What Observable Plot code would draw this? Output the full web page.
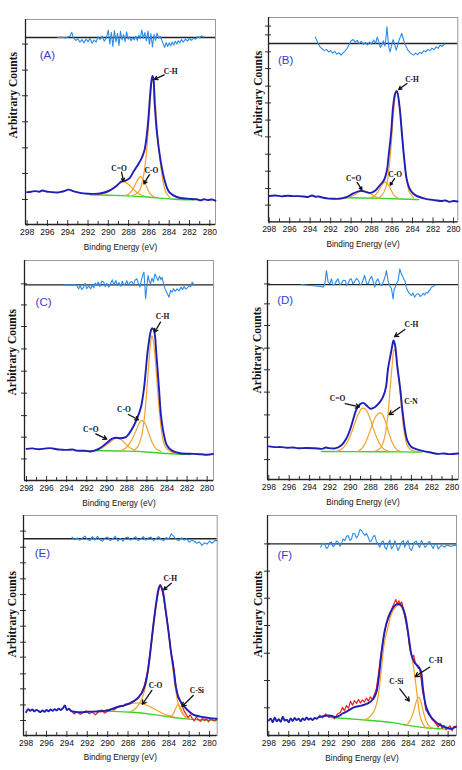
<!DOCTYPE html>
<html><head><meta charset="utf-8">
<script src="https://cdn.jsdelivr.net/npm/d3@7"></script>
<script src="https://cdn.jsdelivr.net/npm/@observablehq/plot@0.6"></script>
<style>
body{margin:0;background:#fff}
#root{position:relative;width:462px;height:770px;overflow:hidden;background:#fff}
.panel{position:absolute}
</style></head><body><div id="root"></div>
<script>
// ---------- shared tick labels ----------
const xMajor = [298,296,294,292,290,288,286,284,282,280];
const xMinor = [297,295,293,291,289,287,285,283,281];
const xTitle = "Binding Energy (eV)";
const yTitle = "Arbitrary Counts";

// ---------- Panel A ----------
const A_yTicks = [12.2,24.9,37.4,50.1,62.8,75.3,88.0];
const A_zero = 91.2;
const A_env = [[298.0,15.8],[297.6,16.0],[297.2,16.3],[296.8,16.0],[296.5,16.6],[296.1,16.1],[295.8,15.9],[295.4,15.7],[295.0,15.6],[294.7,15.9],[294.4,16.2],[293.9,17.0],[293.4,16.2],[292.8,15.4],[292.0,15.0],[291.0,15.0],[290.4,15.6],[289.8,16.8],[289.2,18.8],[288.7,21.0],[288.3,21.4],[287.9,22.6],[287.5,26.0],[287.1,29.0],[286.8,31.5],[286.45,36.0],[286.2,44],[286.0,55],[285.9,62],[285.75,70],[285.65,72.5],[285.55,71],[285.45,60.5],[285.2,44.2],[284.85,31.2],[284.45,21.5],[284.0,15.8],[283.2,13.3],[282.2,12.6],[281.3,12.3],[280.9,11.8],[280.6,12.3],[280.2,11.9],[279.8,12.2],[279.45,11.6]];
const A_green = [[291.8,14.5],[290,14.3],[288,14.0],[286.5,13.6],[285,12.8],[283.5,12.3],[281.6,12.0]];
const A_CdO = [[291.3,14.4],[290.5,15.0],[290,16.0],[289.5,17.8],[289.0,19.8],[288.6,20.8],[288.2,20.2],[287.8,18.6],[287.4,16.6],[287.0,15.0],[286.5,14.0]];
const A_CO = [[288.4,14.1],[288.0,14.8],[287.6,17.0],[287.2,21.0],[286.85,23.4],[286.5,21.5],[286.2,18.0],[285.9,15.2],[285.5,13.5]];
const A_CH = [[287.6,14.0],[287.0,16],[286.6,22],[286.3,32],[286.1,44],[285.9,58],[285.75,68],[285.65,71],[285.5,68.5],[285.35,58],[285.15,44],[284.9,31],[284.6,21],[284.3,15.5],[283.9,13]];
const A_resid = [[295.0,91.2],[294.6,91.4],[294.2,91.0],[293.8,91.8],[293.6,93.8],[293.45,91.0],[293.2,89.8],[293.0,90.6],[292.8,89.0],[292.6,90.2],[292.4,88.6],[292.2,90.4],[292.0,89.2],[291.8,90.8],[291.6,88.4],[291.4,90.0],[291.2,89.0],[291.0,91.6],[290.8,90.2],[290.6,92.0],[290.4,89.4],[290.2,91.0],[290.0,94.8],[289.85,88.0],[289.7,93.8],[289.55,86.8],[289.4,94.6],[289.25,89.0],[289.1,93.2],[288.95,87.4],[288.8,94.2],[288.65,90.0],[288.5,92.6],[288.35,89.2],[288.2,94.0],[288.05,90.4],[287.9,91.6],[287.75,89.6],[287.6,91.2],[287.45,90.0],[287.3,91.8],[287.15,89.8],[287.0,92.4],[286.85,90.6],[286.7,94.8],[286.55,91.0],[286.4,93.6],[286.25,89.6],[286.1,94.4],[285.95,88.0],[285.8,93.0],[285.65,86.6],[285.5,92.8],[285.35,89.8],[285.2,93.4],[285.05,90.8],[284.9,91.8],[284.75,90.2],[284.6,88.2],[284.45,86.4],[284.3,88.8],[284.15,86.8],[284.0,88.6],[283.85,87.2],[283.7,89.0],[283.55,87.6],[283.4,89.4],[283.25,88.0],[283.1,89.6],[282.95,88.6],[282.8,90.2],[282.6,89.0],[282.4,90.4],[282.2,89.4],[282.0,90.8],[281.8,89.8],[281.6,91.0],[281.4,90.4],[281.2,91.6],[281.0,91.2],[280.8,92.0],[280.6,91.4]];
const A_labels = [{t:"C-H",x:283.85,y:74.6},{t:"C=O",x:288.95,y:27.5},{t:"C-O",x:285.75,y:26.3}];
const A_arrows = [{x1:284.5,y1:73.0,x2:285.45,y2:70.8},{x1:288.7,y1:25.5,x2:288.5,y2:21.2},{x1:285.95,y1:24.3,x2:286.5,y2:19.8}];
const A_tag = {t:"(A)",x:296.0,y:82.4};

// ---------- Panel B ----------
const B_yTicks = [8.2,16.3,24.8,33.1,41.6,49.8,58.2,66.4,75.0,83.2,91.5,95.8];
const B_zero = 87.3;
const B_env = [[298.0,12.7],[297.4,12.9],[296.8,12.5],[296.2,12.8],[295.6,12.6],[295.1,12.6],[294.6,12.4],[294.2,12.2],[293.8,12.9],[293.5,12.3],[293.2,12.4],[292.7,11.8],[292.2,11.4],[291.7,11.3],[291.2,11.3],[290.8,11.6],[290.4,12.2],[289.8,13.9],[289.1,15.2],[288.6,14.7],[288.1,14.2],[287.6,15.5],[287.2,17.9],[286.8,20.4],[286.5,25.3],[286.35,31.8],[286.1,43.2],[285.9,56.3],[285.7,62.8],[285.53,64.1],[285.27,56.3],[285.04,43.2],[284.8,30.2],[284.55,20.4],[284.2,15.5],[283.74,13.1],[282.8,11.4],[281.8,10.6],[281.2,10.2],[280.8,10.5],[280.4,9.8],[280.0,10.2],[279.6,10.0]];
const B_green = [[290.6,11.8],[289,11.7],[287,11.5],[285,11.2],[283.4,10.9]];
const B_CdO = [[290.5,11.8],[290,12.4],[289.5,13.8],[289.1,15.0],[288.8,15.3],[288.4,14.6],[288,13.4],[287.6,12.3],[287.2,11.6]];
const B_CO = [[288.2,11.7],[287.8,12.5],[287.4,14.6],[287.0,17.8],[286.7,19.6],[286.4,18.4],[286.1,15.6],[285.8,13.0],[285.4,11.6]];
const B_CH = [[287.4,11.6],[287.0,13],[286.6,17],[286.3,26],[286.05,40],[285.85,54],[285.7,61],[285.55,63.6],[285.4,61],[285.2,54],[285.0,42],[284.8,30],[284.55,20],[284.3,14.5],[283.9,11.8]];
const B_resid = [[293.5,90.5],[293.35,88.8],[293.2,87.0],[293.0,85.4],[292.8,84.6],[292.6,83.8],[292.4,84.4],[292.2,83.2],[292.0,83.8],[291.8,82.6],[291.6,83.4],[291.4,82.0],[291.2,82.8],[291.0,81.6],[290.8,82.6],[290.6,83.6],[290.4,84.8],[290.2,86.8],[290.0,88.6],[289.8,89.2],[289.6,88.0],[289.4,88.8],[289.2,87.2],[289.0,88.4],[288.8,86.8],[288.6,87.8],[288.4,86.6],[288.2,88.0],[288.0,87.0],[287.8,89.0],[287.6,87.4],[287.45,90.4],[287.3,88.2],[287.15,85.4],[287.0,86.6],[286.85,88.6],[286.7,86.0],[286.6,90.0],[286.5,95.4],[286.4,89.6],[286.3,85.0],[286.2,83.2],[286.05,86.4],[285.9,89.2],[285.75,87.0],[285.6,84.0],[285.5,85.6],[285.35,88.4],[285.2,90.4],[285.05,92.2],[284.9,89.6],[284.75,87.0],[284.6,85.6],[284.45,84.0],[284.3,83.2],[284.1,82.2],[283.9,81.6],[283.7,82.6],[283.5,81.8],[283.3,83.0],[283.1,82.4],[282.9,83.8],[282.7,83.2],[282.5,84.4],[282.3,83.8],[282.1,85.0],[281.9,84.2],[281.7,85.6],[281.5,85.0],[281.3,86.4],[281.1,85.8],[280.9,87.0]];
const B_labels = [{t:"C-H",x:284.05,y:69.7},{t:"C=O",x:289.75,y:21.2},{t:"C-O",x:285.7,y:23.3}];
const B_arrows = [{x1:284.55,y1:67.7,x2:285.35,y2:64.8},{x1:289.4,y1:19.2,x2:288.95,y2:15.8},{x1:285.76,y1:21.2,x2:286.18,y2:18.0}];
const B_tag = {t:"(B)",x:296.4,y:79.1};

// ---------- Panel C ----------
const C_yTicks = [9.8,19.7,29.5,39.7,49.7,59.8,70.0,79.8,89.4];
const C_zero = 88.9;
const C_env = [[298.0,14.4],[297.4,14.6],[296.8,14.2],[296.2,14.5],[295.6,14.7],[295.0,14.2],[294.5,14.0],[294.0,13.9],[293.4,14.1],[293.0,13.6],[292.2,13.5],[291.6,13.2],[290.8,14.4],[290.1,16.7],[289.5,18.9],[289.1,19.4],[288.6,19.2],[288.1,19.7],[287.8,21.2],[287.3,25.0],[287.0,28.0],[286.6,33.3],[286.3,41.7],[286.1,50.8],[285.9,59.8],[285.6,68.2],[285.48,69.2],[285.3,68.2],[285.05,56.8],[284.8,41.7],[284.6,29.5],[284.3,20.5],[284.0,15.9],[283.5,13.6],[282.7,12.4],[281.3,12.1],[280.6,11.9],[280.0,11.7],[279.4,12.1]];
const C_green = [[292.6,13.6],[290,13.5],[288,13.4],[286,13],[284,12.2],[281.7,11.8]];
const C_CdO = [[291.5,13.6],[290.8,14.2],[290.2,15.6],[289.6,17.6],[289.1,19.2],[288.6,18.6],[288.2,17.0],[287.8,15.2],[287.3,13.8]];
const C_CO = [[288.6,13.5],[288.1,14.8],[287.6,17.8],[287.1,22.5],[286.8,25.8],[286.5,27.3],[286.2,26],[285.9,22.5],[285.5,17.5],[285.1,14.5],[284.6,13.2]];
const C_CH = [[287.3,13.5],[286.9,15.5],[286.5,21],[286.2,31],[286.0,42],[285.8,54],[285.65,62],[285.5,65.9],[285.35,63],[285.15,54],[284.95,42],[284.75,31],[284.5,21],[284.2,15.5],[283.6,13],[283.0,12.4]];
const C_resid = [[294.3,88.9],[294.0,89.0],[293.6,88.8],[293.2,89.0],[293.0,88.6],[292.8,87.1],[292.65,88.6],[292.5,86.8],[292.3,87.9],[292.15,89.6],[292.0,87.2],[291.8,88.4],[291.6,87.1],[291.45,89.0],[291.3,87.6],[291.15,89.8],[291.0,88.6],[290.85,90.2],[290.7,88.2],[290.5,90.6],[290.3,90.2],[290.15,88.0],[290.0,89.6],[289.8,87.9],[289.6,89.8],[289.45,91.2],[289.3,89.0],[289.1,90.9],[288.95,88.6],[288.8,90.0],[288.6,88.3],[288.45,90.6],[288.3,88.8],[288.15,89.4],[288.0,90.8],[287.85,88.6],[287.7,90.0],[287.5,90.5],[287.35,88.8],[287.2,91.0],[287.0,91.7],[286.85,89.4],[286.7,87.9],[286.55,91.2],[286.4,93.6],[286.3,94.7],[286.2,88.0],[286.14,82.6],[286.0,88.4],[285.9,93.2],[285.8,91.0],[285.65,89.4],[285.5,92.0],[285.35,90.2],[285.2,93.9],[285.05,92.4],[284.9,90.9],[284.75,92.8],[284.6,91.4],[284.5,92.4],[284.35,89.6],[284.2,87.1],[284.0,85.2],[283.8,83.3],[283.65,86.4],[283.5,85.6],[283.35,87.2],[283.2,86.0],[283.0,87.1],[282.8,86.2],[282.6,87.9],[282.45,86.8],[282.3,88.2],[282.15,87.0],[282.0,87.4],[281.8,88.6],[281.65,88.0],[281.5,90.2],[281.3,88.9]];
const C_labels = [{t:"C-H",x:284.45,y:74.7},{t:"C-O",x:288.3,y:32.3},{t:"C=O",x:291.6,y:23.2}];
const C_arrows = [{x1:284.65,y1:72.0,x2:285.25,y2:67.4},{x1:287.85,y1:30.0,x2:286.85,y2:27.6},{x1:291.1,y1:21.2,x2:290.0,y2:18.8}];
const C_tag = {t:"(C)",x:296.3,y:81.1};

// ---------- Panel D ----------
const D_yTicks = [9.1,19.3,29.5,39.9,50.1,60.0,70.3,80.2,89.3];
const D_zero = 89.0;
const D_env = [[298.0,15.1],[297.4,14.8],[296.8,14.8],[296.2,14.5],[295.6,14.6],[295.1,14.3],[294.4,14.4],[293.5,14.3],[292.8,14.0],[292.4,14.6],[292.2,14.4],[291.5,14.2],[290.9,15.5],[290.4,18.6],[290.0,23.1],[289.7,27.7],[289.4,32.0],[289.1,34.1],[288.75,35.0],[288.4,33.8],[288.0,32.3],[287.6,33.0],[287.1,35.3],[286.8,37.6],[286.5,42.2],[286.3,50.5],[286.0,58.1],[285.8,63.0],[285.76,63.5],[285.6,61.2],[285.4,52.1],[285.1,41.4],[284.9,32.3],[284.65,23.1],[284.4,17.8],[284.0,14.8],[283.3,13.5],[282.0,12.2],[281.4,11.7],[280.8,11.9],[280.4,11.6],[279.4,11.9]];
const D_green = [[292.8,12.8],[290,12.7],[287,12.7],[285,12.6],[283.0,12.5]];
const D_CdO = [[291.4,12.8],[290.8,14],[290.3,17],[289.8,22.5],[289.3,29],[288.9,32.3],[288.7,32.6],[288.4,31.5],[288.0,27],[287.6,21.5],[287.2,17],[286.8,14.2],[286.3,13]];
const D_CN = [[289.2,12.9],[288.8,14.5],[288.4,18],[288.0,23],[287.6,28],[287.2,30.3],[286.9,30],[286.6,27],[286.2,21],[285.8,16],[285.4,13.5],[285.0,12.8]];
const D_CH = [[287.6,12.8],[287,14.5],[286.6,20],[286.3,30],[286.1,41],[285.9,52],[285.75,58.5],[285.65,59.4],[285.5,57],[285.3,49],[285.1,39],[284.9,29],[284.65,20],[284.35,15],[283.9,13.2],[283.3,12.6]];
const D_resid = [[294.8,89.0],[294.4,88.8],[294.0,88.6],[293.6,88.5],[293.2,88.3],[292.9,88.2],[292.67,87.8],[292.5,89.5],[292.34,95.4],[292.18,90.1],[292.0,89.4],[291.85,91.6],[291.7,88.8],[291.5,89.3],[291.35,90.8],[291.2,91.6],[291.05,89.0],[290.9,89.3],[290.7,91.0],[290.5,90.9],[290.35,88.6],[290.2,89.6],[290.05,91.4],[289.9,91.6],[289.75,89.4],[289.6,90.1],[289.4,91.8],[289.2,90.9],[289.05,88.8],[288.9,89.3],[288.75,91.0],[288.6,93.2],[288.4,89.6],[288.25,89.3],[288.1,91.4],[287.9,92.8],[287.75,90.2],[287.6,87.8],[287.45,90.6],[287.3,91.6],[287.1,89.4],[286.9,88.6],[286.75,90.4],[286.6,92.4],[286.45,95.4],[286.3,90.9],[286.15,88.6],[285.96,87.1],[285.8,82.5],[285.7,86.8],[285.6,87.8],[285.45,89.6],[285.3,90.9],[285.14,96.2],[285.0,94.0],[284.9,93.2],[284.75,91.4],[284.65,90.9],[284.5,87.6],[284.3,85.5],[284.15,84.8],[284.0,84.0],[283.85,85.2],[283.7,83.3],[283.5,84.6],[283.3,84.8],[283.15,83.6],[283.0,84.0],[282.85,85.0],[282.7,84.3],[282.55,85.4],[282.4,85.2],[282.2,86.6],[282.03,87.8],[281.85,88.2],[281.7,88.6]];
const D_labels = [{t:"C-H",x:284.0,y:70.6},{t:"C=O",x:291.25,y:37.1},{t:"C-N",x:284.05,y:35.6}];
const D_arrows = [{x1:284.65,y1:68.5,x2:285.65,y2:65.2},{x1:290.5,y1:34.6,x2:289.1,y2:33.2},{x1:285.14,y1:33.0,x2:286.2,y2:29.6}];
const D_tag = {t:"(D)",x:296.4,y:81.7};

// ---------- Panel E ----------
const E_yTicks = [6.8,13.9,21.2,28.0,35.6,42.4,49.7,56.8,64.1,71.2,78.5,85.6,92.9];
const E_zero = 89.4;
const E_env = [[298.0,10.6],[297.8,12.0],[297.6,11.2],[297.4,11.8],[297.2,11.0],[297.0,11.6],[296.8,11.2],[296.6,10.6],[296.4,11.4],[296.2,10.8],[296.0,11.6],[295.8,11.0],[295.6,11.8],[295.4,11.2],[295.2,12.0],[295.0,11.4],[294.8,12.2],[294.6,11.6],[294.4,12.4],[294.2,13.6],[294.0,11.6],[293.8,12.2],[293.6,11.2],[293.3,10.8],[293.0,10.6],[292.5,10.6],[292.0,10.8],[291.0,10.9],[290.3,11.2],[289.75,11.7],[289.1,12.9],[288.45,13.6],[287.8,14.7],[287.1,16.7],[286.6,19.7],[286.3,23.5],[286.0,31.1],[285.8,38.6],[285.5,50.8],[285.2,61.4],[285.0,66.7],[284.85,68.2],[284.6,65.9],[284.35,58.3],[284.0,46.2],[283.8,38.6],[283.5,29.5],[283.3,22.0],[283.05,17.4],[282.7,14.4],[282.2,11.7],[281.6,9.5],[280.9,8.6],[280.1,8.0],[279.3,7.6]];
const E_data = [[293.6,11.4],[293.3,9.8],[293.0,10.8],[292.7,9.6],[292.4,10.4],[292.1,11.2],[291.8,9.9],[291.5,10.6],[291.2,9.4],[290.9,10.8],[290.6,11.6],[290.3,10.2],[290.0,11.0],[289.7,12.0],[289.4,11.6],[289.1,12.6],[288.8,13.4],[288.5,13.2],[288.2,14.4],[287.9,14.2],[287.6,15.3],[287.3,16.0],[287.0,17.4],[286.7,19.2],[286.4,22.6],[286.1,28.4],[285.8,39.0],[285.5,51.2],[285.2,61.0],[285.0,66.2],[284.85,68.6],[284.7,67.2],[284.5,62.4],[284.2,53.2],[284.0,46.8],[283.8,38.0],[283.6,33.6],[283.5,29.8],[283.3,22.6],[283.1,17.2],[282.9,15.8],[282.7,13.6],[282.5,11.2],[282.3,9.6],[282.1,8.2],[281.9,9.4],[281.7,7.8],[281.5,6.6],[281.3,8.4],[281.1,7.2],[280.9,6.4],[280.7,7.8],[280.5,6.8],[280.3,7.6],[280.1,6.2],[279.9,7.8],[279.7,7.0],[279.5,6.6],[279.3,7.4]];
const E_green = [[291,11.1],[289.5,11.0],[287.5,10.6],[285.8,9.8],[284.2,8.6],[282.5,7.6],[281,7.1],[279.3,6.8]];
const E_CO = [[290.5,11.2],[289.5,12.0],[288.5,13.5],[287.6,14.6],[287.0,14.8],[286.4,14.2],[285.8,13.0],[285.2,11.5],[284.6,10.0],[284.0,9.0],[283.6,8.5]];
const E_CSi = [[283.9,8.5],[283.6,9.5],[283.35,12.0],[283.1,14.1],[282.85,12.5],[282.6,10.0],[282.3,8.3],[282.0,7.8]];
const E_CH = [[287.8,10.8],[287.2,12.5],[286.7,16],[286.3,22],[286.0,30],[285.7,41],[285.4,53],[285.1,63],[284.85,67.5],[284.6,65],[284.3,57],[284.0,46],[283.7,34],[283.4,23],[283.1,15],[282.8,11],[282.4,8.5],[282.0,7.8]];
const E_resid = [[293.5,90.2],[293.25,89.0],[293.0,89.8],[292.75,88.8],[292.5,89.6],[292.25,90.6],[292.0,89.2],[291.75,88.6],[291.5,90.4],[291.25,88.8],[291.0,90.5],[290.75,89.0],[290.5,88.3],[290.25,89.8],[290.0,90.2],[289.75,88.6],[289.5,89.4],[289.25,90.6],[289.0,88.4],[288.75,89.6],[288.5,88.3],[288.25,89.9],[288.0,90.2],[287.75,88.8],[287.5,89.6],[287.25,90.4],[287.0,88.6],[286.75,89.4],[286.5,90.4],[286.25,88.8],[286.0,89.8],[285.75,90.2],[285.5,88.6],[285.25,89.4],[285.0,90.4],[284.75,89.0],[284.5,88.6],[284.25,90.0],[284.0,89.2],[283.75,91.7],[283.5,90.4],[283.25,89.0],[283.0,88.6],[282.75,89.8],[282.5,88.8],[282.25,89.4],[282.0,87.9],[281.75,88.8],[281.5,88.3],[281.25,87.4],[281.0,88.0],[280.75,86.4],[280.5,87.6],[280.25,87.0],[280.0,88.4],[279.75,87.4],[279.5,88.6],[279.25,88.6]];
const E_labels = [{t:"C-H",x:283.85,y:71.2},{t:"C-O",x:285.3,y:22.7},{t:"C-Si",x:281.25,y:20.5}];
const E_arrows = [{x1:283.75,y1:69.2,x2:284.5,y2:66.2},{x1:285.66,y1:20.5,x2:286.6,y2:14.2},{x1:281.6,y1:18.2,x2:282.7,y2:13.2}];
const E_tag = {t:"(E)",x:296.4,y:82.6};

// ---------- Panel F ----------
const F_yTicks = [12.6,25.0,37.4,50.0,62.4,74.7,87.1];
const F_zero = 87.1;
const F_env = [[298.0,6.8],[297.8,7.6],[297.6,6.0],[297.4,8.2],[297.2,6.4],[297.0,7.4],[296.8,6.2],[296.6,8.6],[296.4,6.8],[296.2,7.2],[296.0,6.0],[295.8,7.8],[295.6,6.6],[295.4,8.0],[295.2,7.0],[295.0,7.6],[294.8,6.4],[294.6,7.8],[294.4,7.0],[294.2,8.2],[294.0,7.2],[293.8,7.8],[293.6,7.0],[293.4,8.0],[293.2,7.6],[293.0,8.4],[292.7,8.6],[292.3,9.0],[292.0,9.1],[291.6,8.8],[291.3,8.4],[290.9,9.0],[290.6,10.0],[290.2,10.8],[290.0,11.4],[289.4,12.9],[288.7,13.6],[288.0,14.7],[287.5,16.7],[287.2,19.7],[286.96,26.5],[286.7,37.1],[286.36,47.7],[286.0,53.8],[285.7,56.8],[285.35,59.1],[285.0,59.8],[284.7,59.1],[284.35,55.3],[284.0,46.2],[283.7,37.1],[283.4,33.3],[283.0,31.4],[282.75,29.5],[282.5,20.5],[282.2,12.9],[281.7,8.3],[281.3,6.4],[281.0,5.3],[280.6,4.4],[280.3,3.8],[280.0,3.4],[279.7,3.0],[279.4,3.6],[279.2,4.1]];
const F_data = [[292.9,9.2],[292.6,8.0],[292.3,9.8],[292.0,8.4],[291.7,9.2],[291.4,7.6],[291.1,9.8],[290.8,10.6],[290.6,12.8],[290.4,11.2],[290.2,13.6],[290.0,12.4],[289.8,15.6],[289.6,13.8],[289.4,15.9],[289.2,14.6],[289.0,16.4],[288.8,14.8],[288.6,16.2],[288.4,15.2],[288.2,17.0],[288.0,15.6],[287.8,17.6],[287.6,16.4],[287.4,18.6],[287.2,21.4],[287.0,27.6],[286.8,35.0],[286.6,41.6],[286.4,46.4],[286.2,50.6],[286.0,53.0],[285.8,55.6],[285.6,58.2],[285.4,60.2],[285.25,61.8],[285.1,59.8],[284.95,61.2],[284.8,59.8],[284.65,60.6],[284.5,57.6],[284.35,54.2],[284.2,50.8],[284.05,47.4],[283.9,41.2],[283.75,37.4],[283.6,35.6],[283.45,36.4],[283.3,33.2],[283.15,31.8],[283.0,30.6],[282.85,30.2],[282.7,25.4],[282.55,19.6],[282.4,16.8],[282.25,11.6],[282.1,10.8],[281.95,9.4],[281.8,8.8],[281.6,7.2],[281.4,6.4],[281.2,5.2],[281.0,3.8],[280.8,5.6],[280.6,3.2],[280.4,4.6],[280.2,2.6],[280.0,3.6],[279.8,4.4],[279.6,2.2],[279.4,4.2],[279.2,3.6]];
const F_green = [[292.0,8.3],[290.0,7.6],[287.7,6.8],[285.7,6.1],[284.0,4.5],[282.3,3.5],[281.0,3.0],[279.7,3.0]];
const F_CSi = [[284.4,4.5],[284.0,5.5],[283.7,8.0],[283.4,12.0],[283.15,16.0],[282.95,17.4],[282.75,15.5],[282.5,11.0],[282.2,6.5],[281.9,4.2],[281.5,3.3]];
const F_CH = [[288.5,7.0],[288.0,8.0],[287.5,10.5],[287.2,14.0],[286.95,20.0],[286.7,30.0],[286.4,42.0],[286.0,50.0],[285.7,55.0],[285.35,58.0],[285.0,59.2],[284.7,58.5],[284.35,54.0],[284.0,45.0],[283.7,37.0],[283.5,32.0],[283.25,23.5],[283.0,14.4],[282.75,7.6],[282.3,3.8],[282.0,3.2]];
const F_resid = [[292.8,85.6],[292.6,87.4],[292.4,87.1],[292.2,85.0],[292.05,85.6],[291.9,87.6],[291.7,87.9],[291.55,85.8],[291.4,86.4],[291.2,88.4],[291.04,87.9],[290.85,86.0],[290.7,87.1],[290.55,89.4],[290.37,88.6],[290.2,90.6],[290.04,90.9],[289.85,88.6],[289.7,89.4],[289.55,91.8],[289.37,91.7],[289.2,89.8],[289.03,90.9],[288.85,93.6],[288.7,93.2],[288.53,92.0],[288.36,90.9],[288.2,91.8],[288.03,90.2],[287.85,88.0],[287.7,88.6],[287.5,90.6],[287.36,90.9],[287.2,88.2],[287.03,87.1],[286.85,85.6],[286.7,87.9],[286.5,88.4],[286.36,85.6],[286.2,84.6],[286.02,87.1],[285.85,88.8],[285.69,84.8],[285.5,86.0],[285.35,88.6],[285.2,86.4],[285.02,84.1],[284.85,85.8],[284.68,87.9],[284.5,88.6],[284.35,85.6],[284.2,87.6],[284.02,88.6],[283.85,85.0],[283.68,84.1],[283.5,86.6],[283.35,87.9],[283.2,88.4],[283.0,86.4],[282.85,85.4],[282.7,88.6],[282.5,87.4],[282.34,85.6],[282.15,86.2],[282.0,87.9],[281.85,88.2],[281.67,86.4],[281.5,85.0],[281.34,87.1],[281.15,86.8],[281.0,84.8],[280.85,85.6],[280.67,86.4],[280.5,86.0],[280.34,85.6],[280.15,86.6],[280.0,86.4],[279.85,86.2],[279.67,85.9],[279.45,86.4],[279.16,86.4]];
const F_labels = [{t:"C-H",x:281.25,y:34.1},{t:"C-Si",x:285.2,y:24.7}];
const F_arrows = [{x1:281.84,y1:31.1,x2:283.3,y2:26.8},{x1:284.85,y1:21.2,x2:283.9,y2:15.6}];
const F_tag = {t:"(F)",x:296.4,y:81.8};

// ---------- layout (frame pixel boxes) & styles ----------
const panels = [
  {L:25,  R:215, T:19,  B:224, xd:[298.16,279.44], yLab:[-12,16.5], ticks:A_yTicks, zero:A_zero, env:A_env, data:null, green:A_green, comps:[A_CdO,A_CO,A_CH], resid:A_resid, labels:A_labels, arrows:A_arrows, tag:A_tag},
  {L:267.7,R:457, T:17.3,B:221.7,xd:[298.07,279.58], yLab:[-10,17.5], ticks:B_yTicks, zero:B_zero, env:B_env, data:null, green:B_green, comps:[B_CdO,B_CO,B_CH], resid:B_resid, labels:B_labels, arrows:B_arrows, tag:B_tag},
  {L:24,  R:213, T:260, B:480, xd:[298.2,279.37], yLab:[-12,25], ticks:C_yTicks, zero:C_zero, env:C_env, data:null, green:C_green, comps:[C_CdO,C_CO,C_CH], resid:C_resid, labels:C_labels, arrows:C_arrows, tag:C_tag},
  {L:267, R:458, T:260, B:479, xd:[298.13,279.38], yLab:[-10,23.5], ticks:D_yTicks, zero:D_zero, env:D_env, data:null, green:D_green, comps:[D_CdO,D_CN,D_CH], resid:D_resid, labels:D_labels, arrows:D_arrows, tag:D_tag},
  {L:23.3,R:217, T:515, B:735, xd:[298.26,279.25], yLab:[-11,32], ticks:E_yTicks, zero:E_zero, env:E_env, data:E_data, green:E_green, comps:[E_CO,E_CSi,E_CH], resid:E_resid, labels:E_labels, arrows:E_arrows, tag:E_tag},
  {L:267, R:456, T:515, B:735, xd:[298.13,279.16], yLab:[-9,32], ticks:F_yTicks, zero:F_zero, env:F_env, data:F_data, green:F_green, comps:[F_CSi,F_CH], resid:F_resid, labels:F_labels, arrows:F_arrows, tag:F_tag}
];

const COL = {env:"#1f1fb8", comp:"#f4a22a", green:"#38d42a", resid:"#2a8ce8", data:"#e82020", tag:"#3a3ad0"};
const sans = "Liberation Sans, Arial, sans-serif";
const serif = "Liberation Serif, Times New Roman, serif";
const px = d => d[0], py = d => d[1];

const root = document.getElementById("root");
for (const p of panels) {
  const mL = 28, mR = 4, mT = 4, mB = 34;
  const w = p.R - p.L + mL + mR, h = p.B - p.T + mT + mB;
  const marks = [
    Plot.frame({stroke:"#9a9a9a", strokeWidth:1}),
    Plot.axisY({ticks:p.ticks, tickSize:3, tickFormat:() => "", label:null, stroke:"#333"}),
    Plot.axisY({ticks:p.ticks, tickSize:-3, tickFormat:() => "", label:null, stroke:"#333"}),
    Plot.axisX({ticks:xMajor, tickSize:2, tickPadding:2.5, tickFormat:d => String(d), label:null, fontSize:8.5, fontFamily:sans, fill:"#111", stroke:"#333"}),
    Plot.axisX({ticks:xMajor, tickSize:-4, tickFormat:() => "", label:null, stroke:"#333"}),
    Plot.axisX({ticks:xMinor, tickSize:-3, tickFormat:() => "", label:null, stroke:"#333"}),
    Plot.ruleX([p.xd[0]], {stroke:"#222", strokeWidth:1.3}),
    Plot.ruleY([0], {stroke:"#222", strokeWidth:1.4}),
    Plot.ruleY([p.zero], {stroke:"#222", strokeWidth:1.4}),
    Plot.line(p.resid, {x:px, y:py, stroke:COL.resid, strokeWidth:1.1}),
    Plot.line(p.green, {x:px, y:py, stroke:COL.green, strokeWidth:1.4, curve:"basis"}),
    ...p.comps.map(c => Plot.line(c, {x:px, y:py, stroke:COL.comp, strokeWidth:1.2, curve:"catmull-rom"})),
  ];
  if (p.data) marks.push(Plot.line(p.data, {x:px, y:py, stroke:COL.data, strokeWidth:1.2}));
  marks.push(
    Plot.line(p.env, {x:px, y:py, stroke:COL.env, strokeWidth:1.9, curve:"catmull-rom"}),
    Plot.arrow(p.arrows, {x1:"x1", y1:"y1", x2:"x2", y2:"y2", stroke:"#111", strokeWidth:1.3, headLength:5}),
    Plot.text(p.labels, {x:"x", y:"y", text:"t", fontFamily:serif, fontWeight:"bold", fontSize:7.5, fill:"#111"}),
    Plot.text([p.tag], {x:"x", y:"y", text:"t", fontFamily:sans, fontSize:11.5, fill:COL.tag}),
    Plot.text([xTitle], {frameAnchor:"bottom", dy:25, fontFamily:sans, fontSize:8.2, fill:"#111"}),
    Plot.text([yTitle], {frameAnchor:"left", rotate:-90, dx:p.yLab[0], dy:p.yLab[1], fontFamily:serif, fontWeight:"bold", fontSize:11.5, fill:"#111"})
  );
  const chart = Plot.plot({
    width:w, height:h, marginLeft:mL, marginRight:mR, marginTop:mT, marginBottom:mB,
    x:{domain:p.xd}, y:{domain:[0,100]},
    style:{background:"transparent", overflow:"visible", fontFamily:sans},
    marks
  });
  const div = document.createElement("div");
  div.className = "panel";
  div.style.left = (p.L - mL) + "px";
  div.style.top = (p.T - mT) + "px";
  div.appendChild(chart);
  root.appendChild(div);
}
</script></body></html>
